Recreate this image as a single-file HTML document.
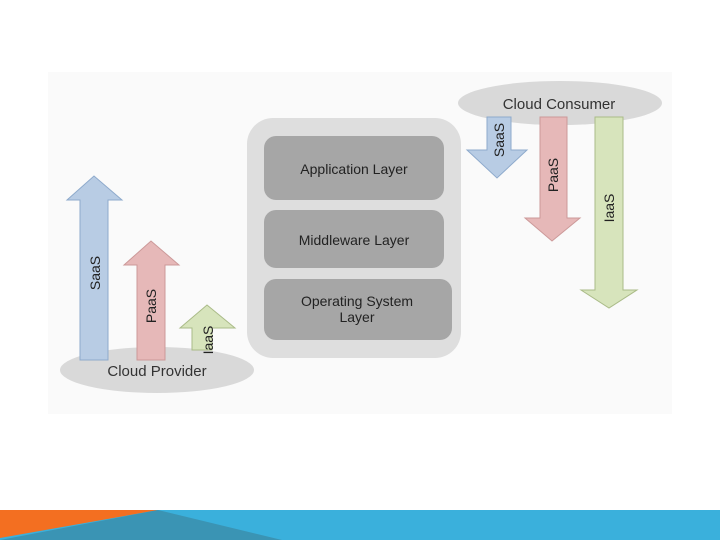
<!DOCTYPE html>
<html><head><style>
body{margin:0;width:720px;height:540px;overflow:hidden;background:#fff;font-family:"Liberation Sans",sans-serif}
</style></head><body>
<svg width="720" height="540" viewBox="0 0 720 540" xmlns="http://www.w3.org/2000/svg" font-family="Liberation Sans, sans-serif">
<rect x="48" y="72" width="624" height="342" fill="#fafafa"/>
<ellipse cx="560" cy="103" rx="102" ry="22" fill="#d9d9d9"/>
<text x="559" y="109" font-size="15" text-anchor="middle" fill="#333">Cloud Consumer</text>
<rect x="247" y="118" width="214" height="240" rx="26" fill="#dedede"/>
<rect x="264" y="136" width="180" height="64" rx="12" fill="#a6a6a6"/>
<rect x="264" y="210" width="180" height="58" rx="12" fill="#a6a6a6"/>
<rect x="264" y="279" width="188" height="61" rx="12" fill="#a6a6a6"/>
<g font-size="14" fill="#222" text-anchor="middle">
<text x="354" y="174">Application Layer</text>
<text x="354" y="245">Middleware Layer</text>
<text x="357" y="306">Operating System</text>
<text x="357" y="322">Layer</text>
</g>
<ellipse cx="157" cy="370" rx="97" ry="23" fill="#d9d9d9"/>
<!-- left arrows -->
<polygon points="80,360 80,200 67,200 94,176 122,200 108,200 108,360" fill="#b8cce4" stroke="#8eaacc"/>
<polygon points="137,360 137,265 124,265 151,241 179,265 165,265 165,360" fill="#e6b8b8" stroke="#c99"/>
<polygon points="192,350 192,328 180,328 207,305 235,328 212,328 212,350" fill="#d7e4bc" stroke="#aabb88"/>
<text x="157" y="376" font-size="15" text-anchor="middle" fill="#333">Cloud Provider</text>
<g font-size="14" fill="#222" text-anchor="middle">
<text transform="translate(100,273) rotate(-90)">SaaS</text>
<text transform="translate(156,306) rotate(-90)">PaaS</text>
<text transform="translate(213,340) rotate(-90)">IaaS</text>
</g>
<!-- right arrows -->
<polygon points="487,117 487,150 467,150 497,178 527,150 511,150 511,117" fill="#b8cce4" stroke="#8eaacc"/>
<polygon points="540,117 540,218 525,218 552,241 580,218 567,218 567,117" fill="#e6b8b8" stroke="#c99"/>
<polygon points="595,117 595,290 581,290 609,308 637,290 623,290 623,117" fill="#d7e4bc" stroke="#aabb88"/>
<g font-size="14" fill="#222" text-anchor="middle">
<text transform="translate(504,140) rotate(-90)">SaaS</text>
<text transform="translate(558,175) rotate(-90)">PaaS</text>
<text transform="translate(614,208) rotate(-90)">IaaS</text>
</g>
<!-- footer -->
<rect x="0" y="510" width="720" height="30" fill="#3ab0dc"/>
<polygon points="0,510 158,510 0,538" fill="#f36f21"/>
<polygon points="0,540 158,510 282,540" fill="#3a94b4"/>
</svg>
</body></html>
